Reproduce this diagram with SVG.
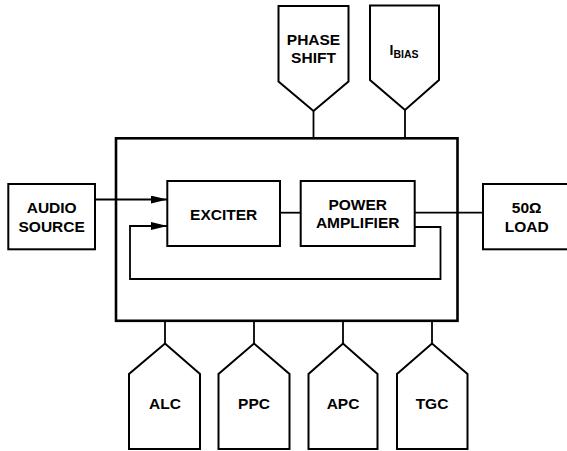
<svg xmlns="http://www.w3.org/2000/svg" width="567" height="451" viewBox="0 0 567 451">
<defs>
<style>
.box{fill:#fff;stroke:#000;stroke-width:2}
.main{fill:none;stroke:#000;stroke-width:2.6}
.ln{fill:none;stroke:#000;stroke-width:1.8}
.t{font-family:"Liberation Sans",Arial,sans-serif;font-weight:bold;font-size:15.5px;text-anchor:middle;fill:#000}
</style>
<marker id="ah" viewBox="0 0 17 8" refX="17" refY="4" markerWidth="17" markerHeight="8" markerUnits="userSpaceOnUse" orient="auto">
<path d="M0,0 L17,4 L0,8 Z" fill="#000"/>
</marker>
</defs>
<rect width="567" height="451" fill="#fff"/>
<g id="connectors">
<line class="ln" x1="313.5" y1="111" x2="313.5" y2="138"/>
<line class="ln" x1="405" y1="110" x2="405" y2="138"/>
<line class="ln" x1="165" y1="321" x2="165" y2="343.5"/>
<line class="ln" x1="254" y1="321" x2="254" y2="343.5"/>
<line class="ln" x1="343" y1="321" x2="343" y2="343.5"/>
<line class="ln" x1="432" y1="321" x2="432" y2="343.5"/>
<line class="ln" x1="95" y1="199.5" x2="167.5" y2="199.5" marker-end="url(#ah)"/>
<polyline class="ln" points="414.7,227 440.5,227 440.5,279 130,279 130,226 167.5,226" marker-end="url(#ah)"/>
<line class="ln" x1="280" y1="212.7" x2="300.7" y2="212.7"/>
<line class="ln" x1="414.7" y1="212.7" x2="483" y2="212.7"/>
</g>
<g id="main">
<rect class="main" x="116" y="138.3" width="341.5" height="182.5"/>
</g>
<g id="audio">
<rect class="box" x="8.3" y="184" width="86.7" height="65.3"/>
<text class="t" x="51.7" y="213.3">AUDIO</text>
<text class="t" x="51.7" y="231.7">SOURCE</text>
</g>
<g id="exciter">
<rect class="box" x="167.3" y="181" width="112.7" height="65"/>
<text class="t" x="223.7" y="220">EXCITER</text>
</g>
<g id="pa">
<rect class="box" x="300.7" y="181" width="114" height="65"/>
<text class="t" x="357.7" y="210">POWER</text>
<text class="t" x="357.7" y="228.3">AMPLIFIER</text>
</g>
<g id="load">
<rect class="box" x="483" y="184" width="90" height="65.3"/>
<text class="t" x="526.7" y="212.7">50Ω</text>
<text class="t" x="526.7" y="231.7">LOAD</text>
</g>
<g id="phase">
<polygon class="box" points="278.5,6 348.5,6 348.5,81.5 313.5,111 278.5,81.5"/>
<text class="t" x="313.5" y="45">PHASE</text>
<text class="t" x="313.5" y="63.3">SHIFT</text>
</g>
<g id="ibias">
<polygon class="box" points="370,5.5 439,5.5 439,80 405,110 370,80"/>
<text class="t" x="404" y="55" style="text-anchor:middle"><tspan font-size="14px">I</tspan><tspan font-size="10.5px" dy="3">BIAS</tspan></text>
</g>
<g id="alc">
<polygon class="box" points="129,449 129,374 165,343.5 200,374 200,449"/>
<text class="t" x="165" y="409">ALC</text>
</g>
<g id="ppc">
<polygon class="box" points="218.5,449 218.5,374 254,343.5 289.5,374 289.5,449"/>
<text class="t" x="254" y="409">PPC</text>
</g>
<g id="apc">
<polygon class="box" points="308.5,449 308.5,374 343,343.5 377.5,374 377.5,449"/>
<text class="t" x="343" y="409">APC</text>
</g>
<g id="tgc">
<polygon class="box" points="397,449 397,374 432,343.5 467.5,374 467.5,449"/>
<text class="t" x="432" y="409">TGC</text>
</g>
</svg>
